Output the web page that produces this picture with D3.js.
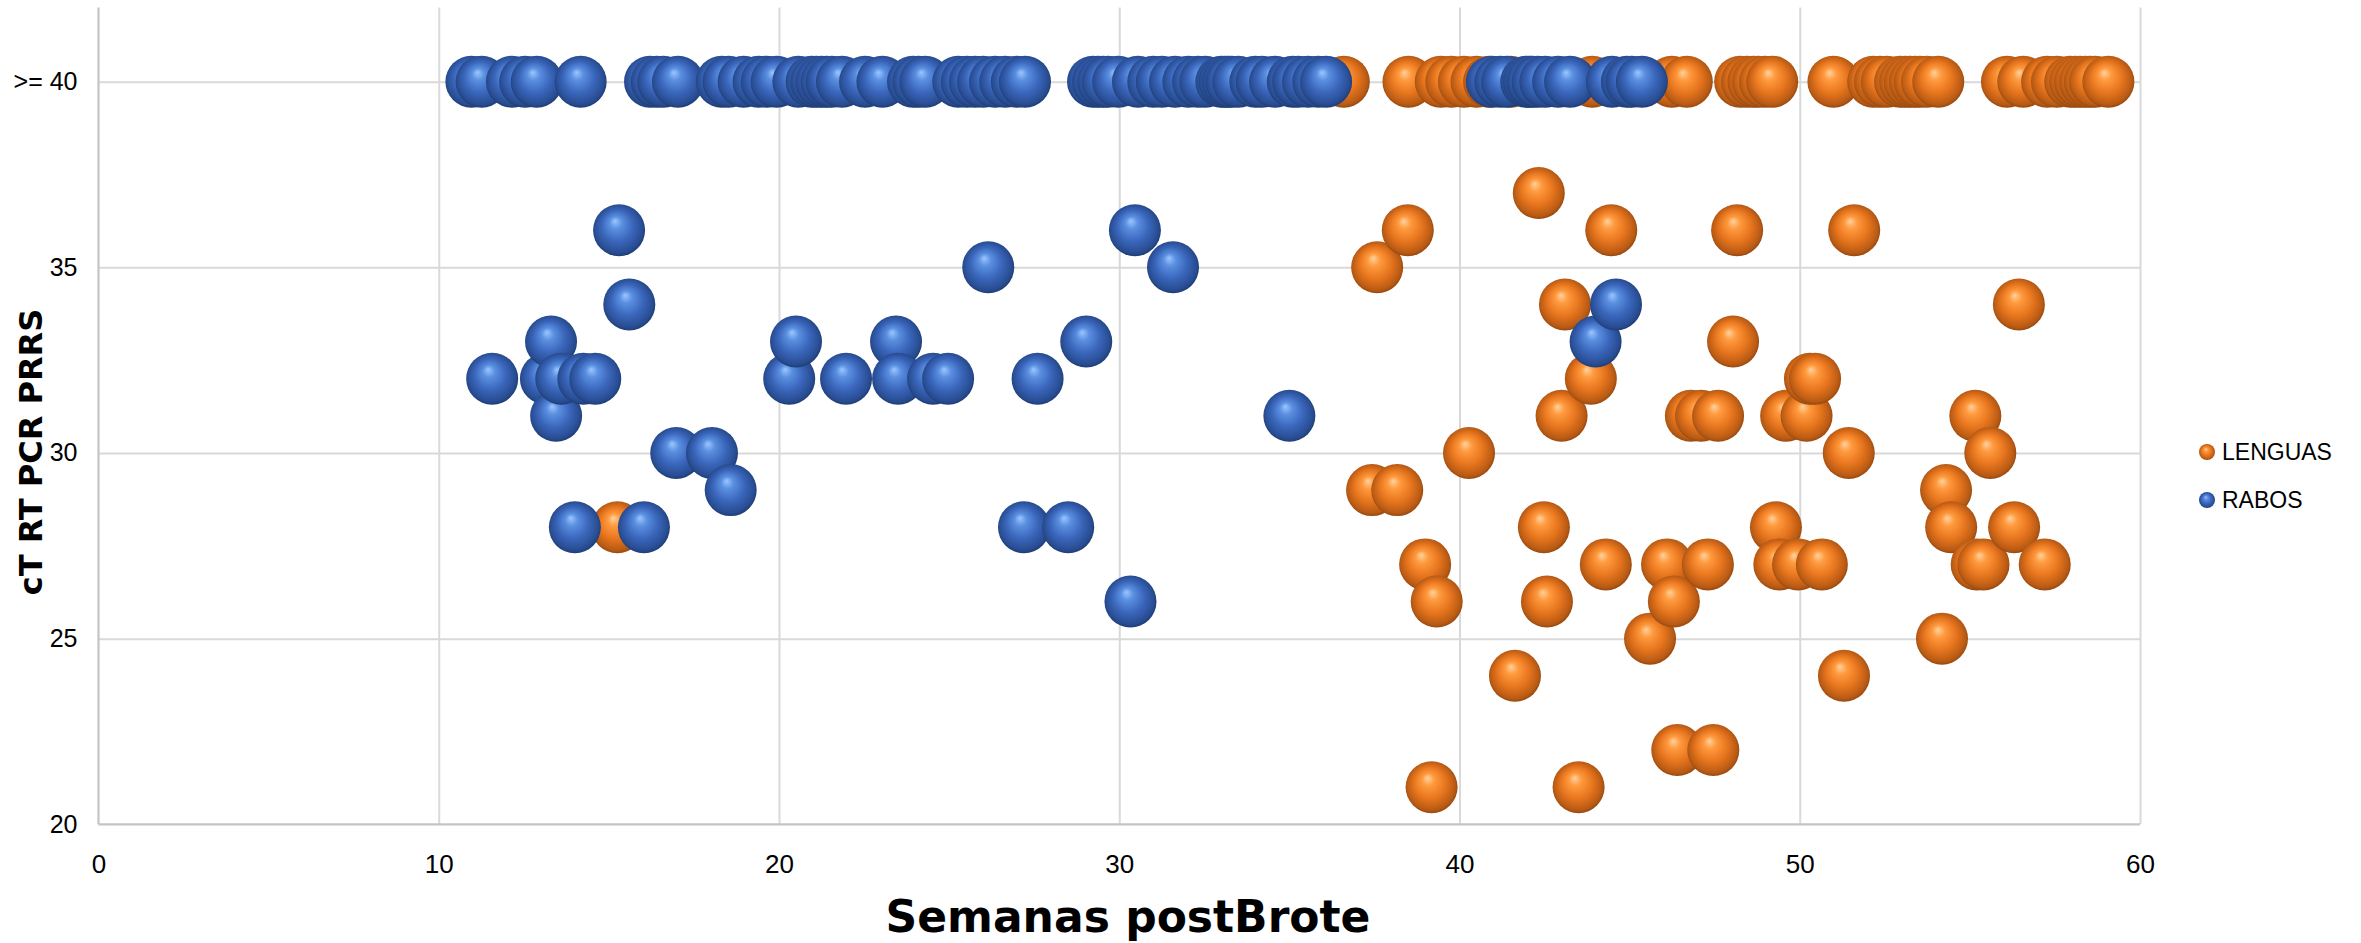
<!DOCTYPE html>
<html><head><meta charset="utf-8">
<script src="https://cdn.jsdelivr.net/npm/d3@7"></script>
<style>html,body{margin:0;padding:0;background:#fff;} svg{display:block;}</style>
</head><body>
<svg id="chart" width="2361" height="943"></svg>
<script>
// ---------- DATA ----------
const xTicks = [0, 10, 20, 30, 40, 50, 60];
const yTicks = [20, 25, 30, 35, 40];
const yTickLabels = ["20", "25", "30", "35", ">= 40"];
const seriesNames = ["LENGUAS", "RABOS"];
const xTitle = "Semanas postBrote";
const yTitle = "cT RT PCR PRRS";

// LENGUAS: weeks with cT >= 40
const lenguasWeeks40 = [36.6, 38.5, 39.45, 39.76, 40.13, 40.5, 40.87, 41.5, 43.9, 46.24, 46.68,
  48.25, 48.45, 48.64, 48.78, 48.98, 49.19, 50.99, 52.16, 52.36, 52.56, 52.95, 53.1, 53.24,
  53.39, 53.53, 53.74, 54.07, 56.09, 56.57, 57.27, 57.56, 57.95, 58.1, 58.24, 58.39, 58.53,
  58.68, 59.07];
// LENGUAS: weeks and cT values below 40
const lenguasWeeks = [15.25, 37.43, 37.58, 38.17, 38.48, 38.99, 39.18, 39.33, 40.28, 41.63,
  42.33, 42.48, 42.57, 43.0, 43.1, 43.5, 43.86, 44.3, 44.46, 45.6, 46.1, 46.3, 46.4, 46.8,
  47.1, 47.3, 47.46, 47.6, 48.04, 48.16, 49.3, 49.4, 49.6, 49.95, 50.2, 50.3, 50.45, 50.65,
  51.3, 51.44, 51.6, 54.18, 54.3, 54.45, 55.16, 55.2, 55.4, 55.6, 56.3, 56.44, 57.2];
const lenguasCt = [28, 29, 35, 29, 36, 27, 21, 26, 30, 24,
  37, 28, 26, 31, 34, 21, 32, 27, 36, 25, 27, 26, 22, 31,
  31, 27, 22, 31, 33, 36, 28, 27, 31, 27, 31, 32, 32, 27,
  24, 30, 36, 25, 29, 28, 31, 27, 27, 30, 28, 34, 27];

// RABOS: weeks with cT >= 40
const rabosWeeks40 = [10.96, 11.26, 12.15, 12.54, 12.88, 14.17, 16.21, 16.41, 16.6, 17.03,
  18.32, 18.52, 18.96, 19.4, 19.64, 19.93, 20.57, 20.96, 21.1, 21.25, 21.4, 21.55, 21.85,
  22.53, 23.04, 23.94, 24.1, 24.3, 25.27, 25.52, 25.76, 26.0, 26.35, 26.65, 26.99, 27.23,
  29.23, 29.38, 29.53, 29.67, 29.97, 30.55, 31.0, 31.25, 31.64, 32.03, 32.32, 32.53, 33.0,
  33.1, 33.2, 33.3, 33.5, 34.0, 34.19, 34.58, 35.1, 35.26, 35.55, 35.85, 36.08, 40.95, 41.2,
  41.4, 41.96, 42.05, 42.15, 42.3, 42.52, 42.9, 43.25, 44.48, 44.92, 45.06, 45.36];
// RABOS: weeks and cT values below 40
const rabosWeeks = [11.57, 13.15, 13.3, 13.45, 13.6, 14.0, 14.25, 14.6, 15.3, 15.6, 16.03,
  16.98, 18.03, 18.58, 20.3, 20.5, 21.97, 23.44, 23.5, 24.53, 24.97, 26.15, 27.2, 27.6, 28.5,
  29.03, 30.33, 30.46, 31.58, 35.0, 44.0, 44.6];
const rabosCt = [32, 32, 33, 31, 32, 28, 32, 32, 36, 34, 28,
  30, 30, 29, 32, 33, 32, 33, 32, 32, 32, 35, 28, 32, 28,
  33, 26, 36, 35, 31, 33, 34];

// ---------- CHART ----------
const svg = d3.select("#chart");
const m = {left: 98.5, right: 2140, top: 7.4, bottom: 824.3};
const x = d3.scaleLinear().domain([0, 60]).range([m.left, m.right]);
const y = d3.scaleLinear().domain([20, 42]).range([m.bottom, m.top]);

const defs = svg.append("defs");
const palettes = {
  LENGUAS: ["#ffd3a2", "#ff9a3e", "#e8761e", "#b85a14", "#7c3a0c"],
  RABOS:   ["#9cc6ff", "#5a8fe0", "#3a66bb", "#284c91", "#15305e"]
};
seriesNames.forEach(name => {
  const g = defs.append("radialGradient").attr("id", "grad-" + name)
    .attr("cx", "0.5").attr("cy", "0.5").attr("r", "0.55")
    .attr("fx", "0.42").attr("fy", "0.32");
  const c = palettes[name];
  [[0, c[0]], [0.22, c[1]], [0.55, c[2]], [0.85, c[3]], [1, c[4]]].forEach(([o, col]) =>
    g.append("stop").attr("offset", o).attr("stop-color", col));
});

// Gridlines
svg.append("g").attr("transform", `translate(0,${m.bottom})`)
  .call(d3.axisBottom(x).tickValues(xTicks.filter(v => v > 0)).tickSize(-(m.bottom - m.top)).tickFormat(""))
  .call(g => g.select(".domain").remove())
  .call(g => g.selectAll("line").attr("stroke", "#d9d9d9").attr("stroke-width", 2));
svg.append("g").attr("transform", `translate(${m.left},0)`)
  .call(d3.axisLeft(y).tickValues(yTicks.filter(v => v > 20)).tickSize(-(m.right - m.left)).tickFormat(""))
  .call(g => g.select(".domain").remove())
  .call(g => g.selectAll("line").attr("stroke", "#d9d9d9").attr("stroke-width", 2));

// Axis lines
svg.append("line").attr("x1", x(0)).attr("x2", x(60)).attr("y1", y(20)).attr("y2", y(20))
  .attr("stroke", "#c4c4c4").attr("stroke-width", 2.2);
svg.append("line").attr("x1", x(0)).attr("x2", x(0)).attr("y1", y(42)).attr("y2", y(20))
  .attr("stroke", "#c4c4c4").attr("stroke-width", 2.2);

// Tick labels
const tickFont = "Liberation Sans, Arial, sans-serif";
svg.append("g").attr("transform", `translate(0,${m.bottom})`)
  .call(d3.axisBottom(x).tickValues(xTicks).tickSize(0).tickPadding(30).tickFormat(d3.format("d")))
  .call(g => g.select(".domain").remove())
  .call(g => g.selectAll("text").attr("font-family", tickFont).attr("font-size", 26).attr("fill", "#000"));
svg.append("g").attr("transform", `translate(${m.left},0)`)
  .call(d3.axisLeft(y).tickValues(yTicks).tickSize(0).tickPadding(21).tickFormat((d, i) => yTickLabels[i]))
  .call(g => g.select(".domain").remove())
  .call(g => g.selectAll("text").attr("font-family", tickFont).attr("font-size", 25).attr("fill", "#000"));

// Axis titles
svg.append("text").attr("x", 1128).attr("y", 932).attr("text-anchor", "middle")
  .attr("font-family", "DejaVu Sans, Verdana, sans-serif").attr("font-weight", "bold")
  .attr("font-size", 44).attr("fill", "#000").text(xTitle);
svg.append("text").attr("transform", "translate(42,452) rotate(-90)").attr("text-anchor", "middle")
  .attr("font-family", "DejaVu Sans, Verdana, sans-serif").attr("font-weight", "bold")
  .attr("font-size", 32).attr("fill", "#000").text(yTitle);

// Points
function buildSeries(w40, w, ct) {
  const pts = w40.map(v => ({wk: v, ct: 40})).concat(w.map((v, i) => ({wk: v, ct: ct[i]})));
  return pts.sort((a, b) => a.wk - b.wk);
}
const series = [
  {name: "LENGUAS", pts: buildSeries(lenguasWeeks40, lenguasWeeks, lenguasCt)},
  {name: "RABOS", pts: buildSeries(rabosWeeks40, rabosWeeks, rabosCt)}
];
const R = 26;
series.forEach(s => {
  svg.append("g").selectAll("circle").data(s.pts).join("circle")
    .attr("cx", d => x(d.wk)).attr("cy", d => y(d.ct)).attr("r", R)
    .attr("fill", `url(#grad-${s.name})`);
});

// Legend
const leg = svg.append("g");
seriesNames.forEach((name, i) => {
  const cy = 452 + i * 48;
  leg.append("circle").attr("cx", 2207).attr("cy", cy).attr("r", 8).attr("fill", `url(#grad-${name})`);
  leg.append("text").attr("x", 2222).attr("y", cy).attr("dy", "0.35em")
    .attr("font-family", tickFont).attr("font-size", 23).attr("fill", "#000").text(name);
});
</script>
</body></html>
